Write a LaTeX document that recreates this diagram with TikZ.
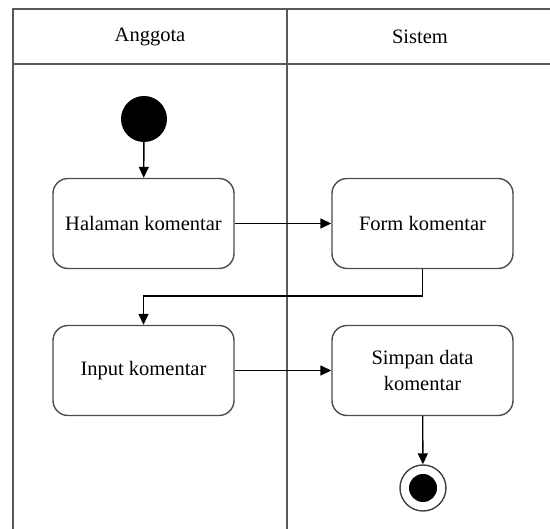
\documentclass[tikz,border=0pt]{standalone}
\usepackage{fontspec}
\setmainfont{Liberation Serif}
\usetikzlibrary{arrows.meta}
\begin{document}
\begin{tikzpicture}[x=1pt,y=-1pt,
  lane/.style={draw=black!65,line width=2pt},
  action/.style={draw=black!70,line width=1.4pt,rounded corners=15pt,
    minimum width=181pt,minimum height=90pt,inner sep=0pt,align=center,
    font=\fontsize{20.5}{26}\selectfont},
  header/.style={font=\fontsize{20.5}{26}\selectfont},
  flow/.style={draw=black,line width=1.4pt,-{Triangle[length=11pt,width=10pt]}},
  startnode/.style={circle,fill=black,minimum size=46pt,inner sep=0pt},
  endring/.style={circle,draw=black!75,line width=1.4pt,fill=white,minimum size=46pt,inner sep=0pt},
  enddot/.style={circle,fill=black,minimum size=28pt,inner sep=0pt}]
\useasboundingbox (0,0) rectangle (550,529);
\clip (0,0) rectangle (550,529);

% swimlane frame, open at the bottom and right
\draw[lane] (12.7,540) -- (12.7,9.5) -- (560,9.5);
\draw[lane] (12.7,64) -- (560,64);
\draw[lane] (287,9.5) -- (287,540);

% lane titles
\node[header] (laneA) at (150,37) {Anggota};
\node[header] (laneB) at (420,37) {Sistem};

% activities
\node[startnode] (start) at (144,119) {};
\node[action] (halaman) at (143.5,223.5) {Halaman komentar};
\node[action] (form) at (422.5,223.5) {Form komentar};
\node[action] (input) at (143.5,370.5) {Input komentar};
\node[action] (simpan) at (422.5,370.5) {Simpan data\\komentar};
\node[endring] (end) at (423,488) {};
\node[enddot] (enddot) at (end.center) {};

% control flow
\draw[flow] (start) -- (halaman);
\draw[flow] (halaman) -- (form);
\draw[flow] (form.south) -- ++(0,27) -| (input.north);
\draw[flow] (input) -- (simpan);
\draw[flow] (simpan) -- (end);
\end{tikzpicture}
\end{document}
